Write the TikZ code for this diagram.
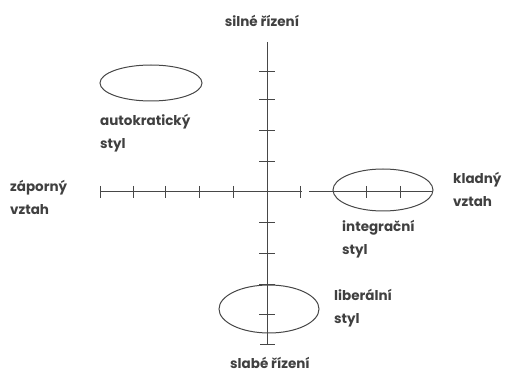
\documentclass[tikz,border=0pt]{standalone}
\usepackage{fontspec}
\setmainfont{Poppins}
\begin{document}
\begin{tikzpicture}[x=1pt,y=-1pt,
  ink/.style={draw=black!72, line width=1pt},
  lbl/.style={text=black!75, font=\fontsize{13.5}{23}\selectfont\bfseries, inner sep=0pt, align=left}]
\useasboundingbox (0,0) rectangle (512,374);
% axes end points
\coordinate (top) at (267,42);
\coordinate (bot) at (267,345);
\coordinate (left) at (100,192);
\coordinate (right) at (433,192);
\coordinate (gapa) at (302,192);
\coordinate (gapb) at (309,192);
\draw[ink] (top) -- (bot);
\draw[ink] (left) -- (gapa);
\draw[ink] (gapb) -- (right);
% ticks vertical axis
\foreach \yy in {72,100,131,162,223,254,285,315}
  \draw[ink] (259,\yy) -- (275,\yy);
\draw[ink] (260,345) -- (275,345);
% ticks horizontal axis
\foreach \xx in {100,133,165,199,233,300,366,400}
  \draw[ink] (\xx,186) -- (\xx,198);
% ellipses
\draw[ink] (151,83) ellipse [x radius=51, y radius=18];
\draw[ink] (383,190) ellipse [x radius=50, y radius=21];
\draw[ink] (269,309) ellipse [x radius=50, y radius=24];
% labels
\node[lbl, anchor=center] (silne) at (262,21) {silné řízení};
\node[lbl, anchor=center] (slabe) at (270,363) {slabé řízení};
\node[lbl, anchor=north west] (auto) at (100,114) {autokratický\\styl};
\node[lbl, anchor=north west] (zap) at (10,180) {záporný\\vztah};
\node[lbl, anchor=north west] (klad) at (453,172) {kladný\\vztah};
\node[lbl, anchor=north west] (integ) at (342,220) {integrační\\styl};
\node[lbl, anchor=north west] (liber) at (334,289) {liberální\\styl};
\end{tikzpicture}
\end{document}
